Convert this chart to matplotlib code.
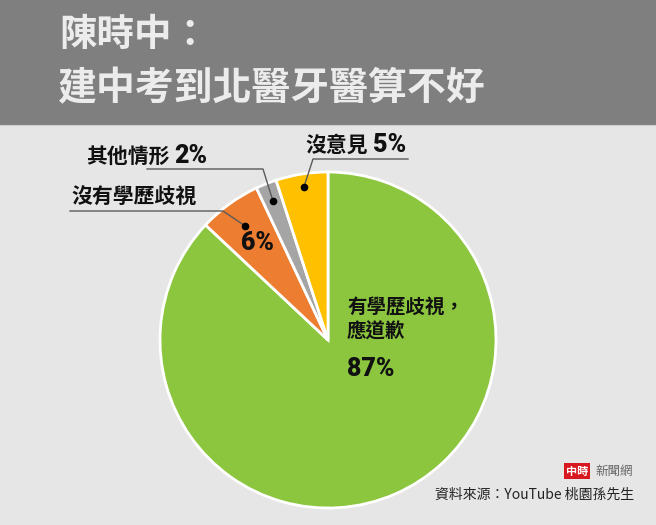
import numpy as np
import matplotlib
matplotlib.use("Agg")
import matplotlib.pyplot as plt
from matplotlib.patches import Rectangle

plt.rcParams['font.family'] = ['Noto Sans CJK TC', 'DejaVu Sans']

# ---- data ----
labels = ['有學歷歧視，\n應道歉', '沒有學歷歧視', '其他情形', '沒意見']
values = [87, 6, 2, 5]
colors = ['#8cc63f', '#ed7d31', '#a5a5a5', '#ffc000']
title1 = '陳時中：'
title2 = '建中考到北醫牙醫算不好'
source = '資料來源：YouTube 桃園孫先生'

W, H = 656, 525
BG = '#e6e6e6'

fig = plt.figure(figsize=(W / 100, H / 100), dpi=100)
fig.patch.set_facecolor(BG)
ax = fig.add_axes([0, 0, 1, 1])
ax.set_facecolor(BG)


def py(y):
    # pixel from top -> data y
    return H - y


# header band
ax.add_patch(Rectangle((0, py(124)), W, 124, color='#7f7f7f', zorder=0))
ax.plot([0, W], [py(124.5), py(124.5)], color='#d0d0d0', lw=0.8, zorder=1)
ax.text(59, py(34), title1, color='#ececec', fontsize=27, fontweight='heavy', va='center', ha='left')
ax.text(57, py(89), title2, color='#ececec', fontsize=28, fontweight='heavy', va='center', ha='left')

# pie
cx, cy, r = 328, py(340), 168
wedges, _ = ax.pie(values, colors=colors, startangle=90, counterclock=False,
                   center=(cx, cy), radius=r,
                   wedgeprops=dict(edgecolor='white', linewidth=2))
ax.set_xlim(0, W)
ax.set_ylim(0, H)
ax.set_aspect('equal')
ax.axis('off')


def dot_pos(w, frac):
    th = np.deg2rad((w.theta1 + w.theta2) / 2)
    return cx + frac * r * np.cos(th), cy + frac * r * np.sin(th)


line_c = '#5a5a5a'
txt_c = '#111111'
num_font = dict(family=['Roboto', 'DejaVu Sans'], fontweight='black', fontsize=18, color=txt_c, va='center')
lab_font = dict(fontsize=15, fontweight='heavy', color=txt_c, va='center')

# 沒意見 5%
dx, dy = dot_pos(wedges[3], 0.92)
ax.plot([408, 313, dx], [py(159), py(159), dy], color=line_c, lw=1)
ax.plot(dx, dy, 'o', color='black', ms=4.5)
ax.text(305, py(145), labels[3], **lab_font)
ax.text(373, py(145), f'{values[3]}%', **num_font)

# 其他情形 2%
dx, dy = dot_pos(wedges[2], 0.89)
ax.plot([147, 263, dx], [py(169), py(169), dy], color=line_c, lw=1)
ax.plot(dx, dy, 'o', color='black', ms=4.5)
ax.text(86, py(156), labels[2], **lab_font)
ax.text(174, py(156), f'{values[2]}%', **num_font)

# 沒有學歷歧視 6%
dx, dy = dot_pos(wedges[1], 0.84)
ax.plot([70, 223, dx], [py(211), py(211), dy], color=line_c, lw=1)
ax.plot(dx, dy, 'o', color='black', ms=4.5)
ax.text(71, py(196), labels[1], **lab_font)
ax.text(241, py(243), f'{values[1]}%', **num_font)

# 有學歷歧視，應道歉 87%
l1, l2 = labels[0].split('\n')
ax.text(347, py(308), l1, fontsize=14, fontweight='heavy', color=txt_c, va='center')
ax.text(347, py(332), l2, fontsize=14, fontweight='heavy', color=txt_c, va='center')
ax.text(347, py(369), f'{values[0]}%', **num_font)

# logo + source
ax.text(577, py(471), '中時', fontsize=8, fontweight='bold', color='white', va='center', ha='center',
        bbox=dict(boxstyle='square,pad=0.15', fc='#d7181f', ec='none'))
ax.text(595, py(471), '新聞網', fontsize=9, color='#666666', va='center', ha='left')
ax.text(634, py(495), source, fontsize=10, color='#222222', va='center', ha='right')

fig.savefig('out.png', dpi=100, facecolor=BG)
